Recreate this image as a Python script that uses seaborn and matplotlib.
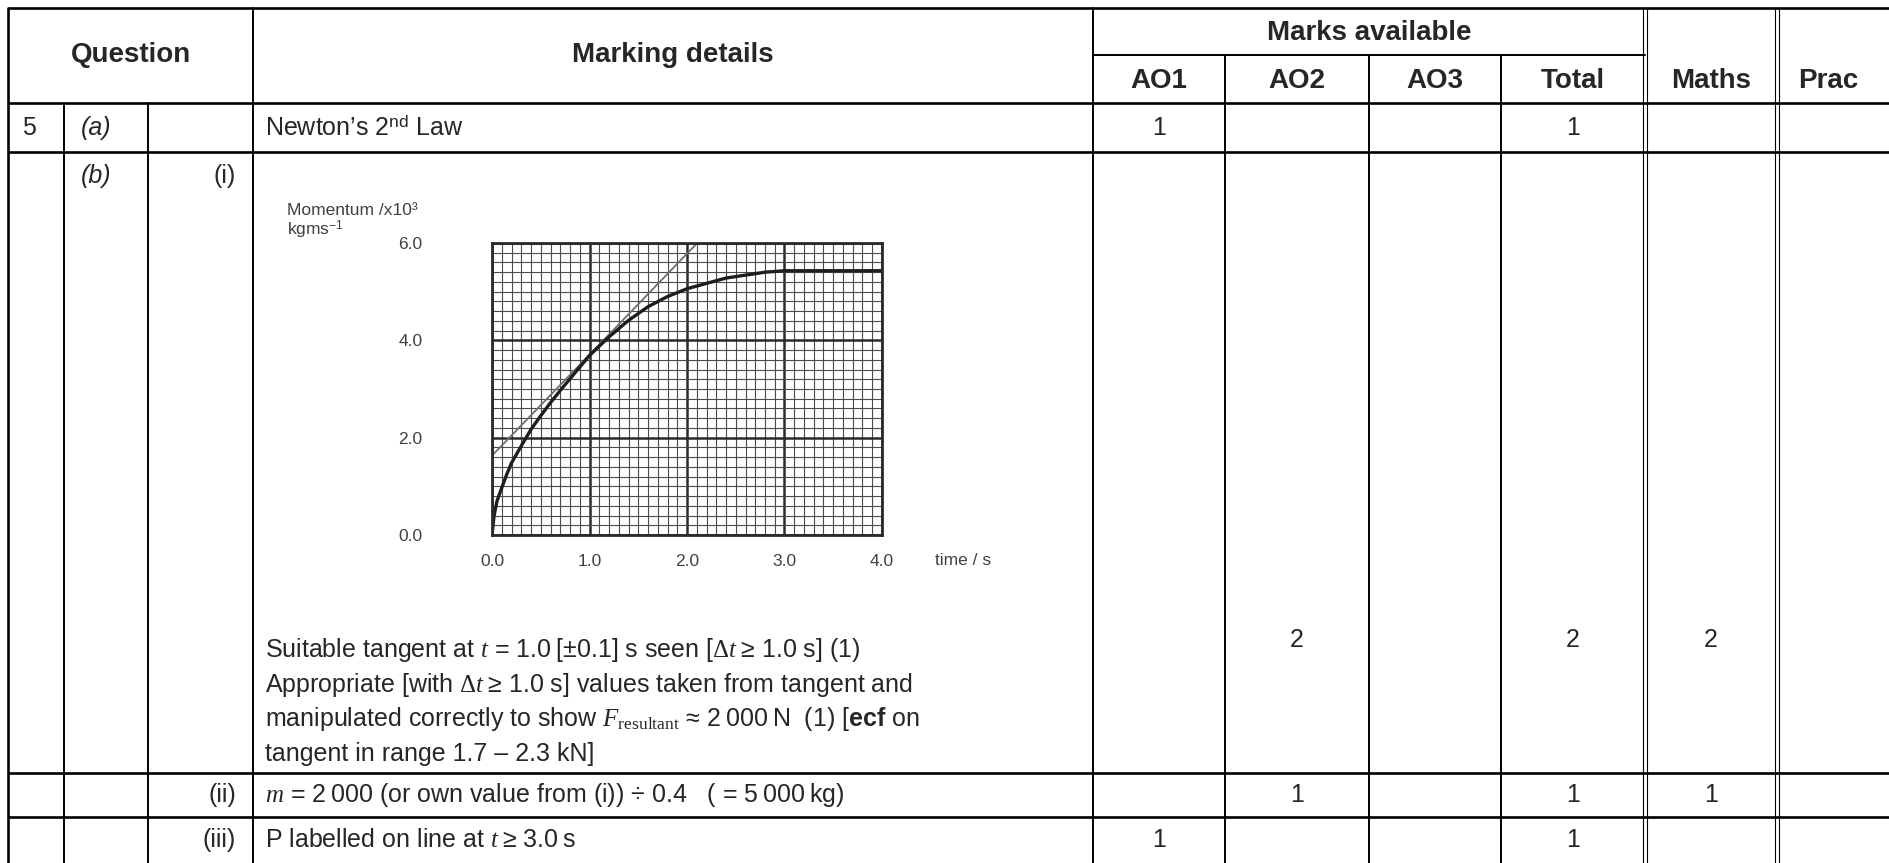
import matplotlib
matplotlib.use("Agg")
import matplotlib.pyplot as plt
import seaborn as sns

# ----- datos de la tabla -----
question_nums = ["5", "", "", ""]
parts = ["(a)", "(b)", "", ""]
subparts = ["", "(i)", "(ii)", "(iii)"]
ao1 = ["1", "", "", "1"]
ao2 = ["", "2", "1", ""]
ao3 = ["", "", "", ""]
totals = ["1", "2", "1", "1"]
maths = ["", "2", "1", ""]
prac = ["", "", "", ""]

header_cols = ["AO1", "AO2", "AO3", "Total", "Maths", "Prac"]

detail_a = "Newton\u2019s 2$^{\\mathsf{nd}}$ Law"
detail_b = [
    "Suitable tangent at $\\mathit{t}$ = 1.0\u2009[\u00b10.1] s seen [$\\Delta\\mathit{t}$\u2009\u2265 1.0 s] (1)",
    "Appropriate [with $\\Delta\\mathit{t}$\u2009\u2265 1.0 s] values taken from tangent and",
    "manipulated correctly to show $\\mathit{F}_{\\mathrm{resultant}}$ \u2248 2\u2009000\u2009N  (1) [$\\mathbf{ecf}$ on",
    "tangent in range 1.7 \u2013 2.3 kN]",
]
detail_ii = "$\\mathit{m}$ = 2\u2009000 (or own value from (i)) \u00f7 0.4   ( = 5\u2009000\u2009kg)"
detail_iii = "P labelled on line at $\\mathit{t}$\u2009\u2265 3.0\u2009s"

# ----- datos de la grafica (momentum vs tiempo) -----
curve_t = [0.0, 0.02, 0.05, 0.1, 0.15, 0.2, 0.3, 0.4, 0.5, 0.6, 0.7, 0.8, 0.9, 1.0,
           1.2, 1.4, 1.6, 1.8, 2.0, 2.2, 2.4, 2.6, 2.8, 3.0, 3.5, 4.0]
curve_p = [0.0, 0.38, 0.69, 0.97, 1.24, 1.48, 1.83, 2.17, 2.45, 2.72, 2.97, 3.21, 3.45, 3.69,
           4.07, 4.41, 4.69, 4.90, 5.06, 5.17, 5.28, 5.34, 5.40, 5.43, 5.43, 5.43]
tangent_t = [0.0, 2.12]
tangent_p = [1.63, 6.03]
x_ticks = [0.0, 1.0, 2.0, 3.0, 4.0]
y_ticks = [0.0, 2.0, 4.0, 6.0]

sns.set_style("white")
plt.rcParams["font.family"] = ["Liberation Sans", "DejaVu Sans"]
plt.rcParams["mathtext.fontset"] = "custom"
plt.rcParams["mathtext.rm"] = "Liberation Serif"
plt.rcParams["mathtext.it"] = "Liberation Serif:italic"
plt.rcParams["mathtext.bf"] = "Liberation Sans:bold"
plt.rcParams["mathtext.sf"] = "Liberation Sans"

W, H = 1890, 863
fig = plt.figure(figsize=(W / 100, H / 100), dpi=100)
ax = fig.add_axes([0, 0, 1, 1])
ax.set_xlim(0, W)
ax.set_ylim(H, 0)
ax.axis("off")

# layout (pixeles)
x_left = 8
x_q1, x_q2, x_md = 64, 148, 253
x_cols = [1093, 1225, 1369, 1501, 1645, 1777, 1910]
y_top, y_mid, y_head = 8, 55, 103
row_edges = [103, 152, 773, 817, 900]

lw = 1.9
blk = "black"
# horizontales
for y in [y_top, y_head] + row_edges[1:4]:
    ax.plot([x_left, W], [y, y], color=blk, lw=lw, solid_capstyle="butt")
ax.plot([x_cols[0], x_cols[4]], [y_mid, y_mid], color=blk, lw=1.4)
# verticales
ax.plot([x_left, x_left], [y_top, H], color=blk, lw=lw)
for x in [x_q1, x_q2]:
    ax.plot([x, x], [y_head, H], color=blk, lw=1.4)
for x in [x_md, x_cols[0]]:
    ax.plot([x, x], [y_top, H], color=blk, lw=1.4)
for x in x_cols[1:4]:
    ax.plot([x, x], [y_mid, H], color=blk, lw=1.4)
for x in [x_cols[4], x_cols[5]]:
    for dx in (-2, 2):
        ax.plot([x + dx, x + dx], [y_top, H], color=blk, lw=0.8)

# encabezados
fs_h = 20
fs = 18
ax.text((x_left + x_md) / 2, (y_top + y_head) / 2, "Question", fontsize=fs_h,
        fontweight="bold", ha="center", va="center")
ax.text((x_md + x_cols[0]) / 2, (y_top + y_head) / 2, "Marking details", fontsize=fs_h,
        fontweight="bold", ha="center", va="center")
ax.text((x_cols[0] + x_cols[4]) / 2, (y_top + y_mid) / 2 + 1, "Marks available", fontsize=fs_h,
        fontweight="bold", ha="center", va="center")
for i, lab in enumerate(header_cols):
    cx = (x_cols[i] + x_cols[i + 1]) / 2 if i < 5 else 1828
    ax.text(cx, (y_mid + y_head) / 2 + 2, lab, fontsize=fs_h, fontweight="bold",
            ha="center", va="center")

# filas
row_text_y = [128, 176, 795, 840]
marks_y = [128, 640, 795, 840]
for r in range(4):
    ax.text(22, row_text_y[r], question_nums[r], fontsize=fs, ha="left", va="center")
    ax.text(81, row_text_y[r], parts[r], fontsize=fs, style="italic", ha="left", va="center")
    ax.text(236, row_text_y[r], subparts[r], fontsize=fs, ha="right", va="center")
    vals = [ao1[r], ao2[r], ao3[r], totals[r], maths[r], prac[r]]
    for i, v in enumerate(vals):
        cx = (x_cols[i] + x_cols[i + 1]) / 2 if i < 5 else 1828
        ax.text(cx, marks_y[r], v, fontsize=fs, ha="center", va="center")

ax.text(265, 128, detail_a, fontsize=fs, ha="left", va="center")
for k, line in enumerate(detail_b):
    ax.text(265, 650 + k * 34.7, line, fontsize=fs, ha="left", va="center")
ax.text(265, 795, detail_ii, fontsize=fs, ha="left", va="center")
ax.text(265, 840, detail_iii, fontsize=fs, ha="left", va="center")

# ----- grafica incrustada -----
px0, px1, py0, py1 = 492, 882, 243, 535
axc = fig.add_axes([px0 / W, 1 - py1 / H, (px1 - px0) / W, (py1 - py0) / H])
axc.set_xlim(0, 4)
axc.set_ylim(0, 6)
axc.set_xticks(x_ticks)
axc.set_yticks(y_ticks)
axc.set_xticks([i / 10 for i in range(41)], minor=True)
axc.set_yticks([i / 5 for i in range(31)], minor=True)
axc.grid(which="minor", color="#4a4a4a", lw=0.8)
axc.grid(which="major", color="#2a2a2a", lw=1.8)
axc.set_axisbelow(True)
for s in axc.spines.values():
    s.set_color("#2a2a2a")
    s.set_linewidth(2.0)

sns.lineplot(x=tangent_t, y=tangent_p, ax=axc, color="#6e6e6e", lw=1.3, sort=False)
sns.lineplot(x=curve_t, y=curve_p, ax=axc, color="#1e1e1e", lw=2.4, sort=False)
axc.set_xlim(0, 4)
axc.set_ylim(0, 6)

grey_txt = "#404040"
axc.set_xticklabels([f"{v:.1f}" for v in x_ticks], fontsize=12.5, color=grey_txt)
axc.set_yticklabels([f"{v:.1f}" for v in y_ticks], fontsize=12.5, color=grey_txt)
axc.tick_params(axis="x", which="both", length=0, pad=14)
axc.tick_params(axis="y", which="both", length=0, pad=50)
axc.set_xlabel("")
axc.set_ylabel("")

ax.text(287, 210, "Momentum /x10\u00b3", fontsize=12.5, color=grey_txt, ha="left", va="center")
ax.text(287, 230, "kgms$^{\\mathsf{-1}}$", fontsize=12.5, color=grey_txt, ha="left", va="center")
ax.text(935, 560, "time / s", fontsize=12.5, color=grey_txt, ha="left", va="center")

fig.savefig("out.png", dpi=100)
